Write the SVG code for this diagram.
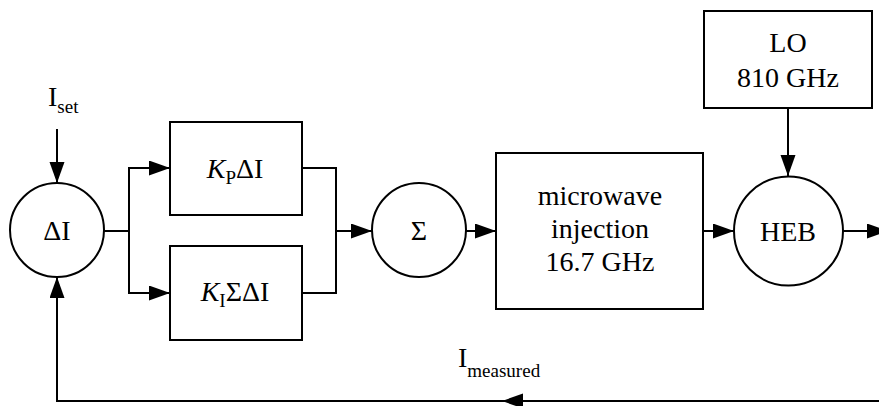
<svg xmlns="http://www.w3.org/2000/svg" width="879" height="406" viewBox="0 0 879 406">
<defs>
<style>
.ln{fill:none;stroke:#000;stroke-width:2}
.nd{fill:#fff;stroke:#000;stroke-width:2}
.t{font-family:'Liberation Serif','Times New Roman',serif;font-size:28px;fill:#000}
.c{text-anchor:middle}
.sub{font-size:19px}
.it{font-style:italic}
</style>
<marker id="ah" markerUnits="userSpaceOnUse" markerWidth="21" markerHeight="16" refX="21" refY="7.5" orient="auto">
<path d="M0,0 L21,7.5 L0,15 z" fill="#000"/>
</marker>
</defs>
<rect width="879" height="406" fill="#fff"/>
<g id="connectors">
<path class="ln" d="M57,129 L57,183" marker-end="url(#ah)"/>
<path class="ln" d="M104,231 L129,231"/>
<path class="ln" d="M129,231 L129,168 L170,168" marker-end="url(#ah)"/>
<path class="ln" d="M129,231 L129,293 L170,293" marker-end="url(#ah)"/>
<path class="ln" d="M302,168 L336,168 L336,293 L302,293"/>
<path class="ln" d="M336,231 L372,231" marker-end="url(#ah)"/>
<path class="ln" d="M466,231 L496,231" marker-end="url(#ah)"/>
<path class="ln" d="M703,231 L734,231" marker-end="url(#ah)"/>
<path class="ln" d="M788,108 L788,176" marker-end="url(#ah)"/>
<path class="ln" d="M843,231 L888,231" marker-end="url(#ah)"/>
<path class="ln" d="M880,401 L502,401" marker-end="url(#ah)"/>
<path class="ln" d="M505,401 L57,401 L57,277" marker-end="url(#ah)"/>
</g>
<g id="iset"><text class="t" x="48" y="106">I<tspan class="sub" dy="7">set</tspan></text></g>
<g id="imeasured"><text class="t" x="458" y="367">I<tspan class="sub" dy="10">measured</tspan></text></g>
<g id="delta"><circle class="nd" cx="57" cy="230" r="47"/><text class="t c" x="57" y="240">ΔI</text></g>
<g id="kp"><rect class="nd" x="170" y="122" width="132" height="93"/><text class="t c" x="235" y="178"><tspan class="it">K</tspan><tspan class="sub" dy="6">P</tspan><tspan dy="-6">ΔI</tspan></text></g>
<g id="ki"><rect class="nd" x="170" y="246" width="132" height="94"/><text class="t c" x="235" y="301"><tspan class="it">K</tspan><tspan class="sub" dy="6">I</tspan><tspan dy="-6">ΣΔI</tspan></text></g>
<g id="sum"><circle class="nd" cx="419" cy="230" r="47"/><text class="t c" x="419" y="240">Σ</text></g>
<g id="mw"><rect class="nd" x="496" y="153" width="207" height="156"/><text class="t c" x="600" y="205">microwave</text><text class="t c" x="600" y="238">injection</text><text class="t c" x="600" y="271">16.7 GHz</text></g>
<g id="lo"><rect class="nd" x="704" y="11" width="168" height="97"/><text class="t c" x="788" y="52">LO</text><text class="t c" x="788" y="87">810 GHz</text></g>
<g id="heb"><circle class="nd" cx="788.5" cy="231" r="54.5"/><text class="t c" x="788" y="241">HEB</text></g>
</svg>
